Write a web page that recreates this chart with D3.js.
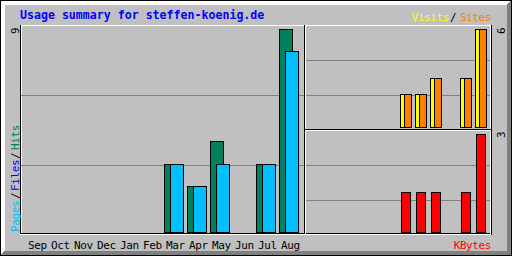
<!DOCTYPE html>
<html>
<head>
<meta charset="utf-8">
<script src="https://cdn.jsdelivr.net/npm/d3@7"></script>
<style>
  body { margin: 0; background: #fff; }
  svg { display: block; }
  text { font-family: "DejaVu Sans Mono", monospace; }
</style>
</head>
<body>
<div id="chart"></div>
<script>
// monthly figures
var months = ["Sep","Oct","Nov","Dec","Jan","Feb","Mar","Apr","May","Jun","Jul","Aug"];
var hits   = [0,0,0,0,0,0,3,2,4,0,3,9];
var files  = [0,0,0,0,0,0,0,0,0,0,0,0];
var pages  = [0,0,0,0,0,0,3,2,3,0,3,8];
var visits = [0,0,0,0,0,0,2,2,3,0,3,6];
var sites  = [0,0,0,0,0,0,2,2,3,0,3,6];
var kbytes = [0,0,0,0,0,0,1.05,1.05,1.05,0,1.05,2.6];

var title = "Usage summary for steffen-koenig.de";

var width = 512, height = 256;
var grey = "#c0c0c0", dkgrey = "#808080";
var hitColor = "#00805c", fileColor = "#0000ff", pageColor = "#00c0ff";
var visitColor = "#ffff00", siteColor = "#ff8000", kbyteColor = "#ff0000";
var smallFont = "11px", smallSpacing = "-0.4px";

var svg = d3.select("#chart")
    .append("svg")
    .attr("width", width)
    .attr("height", height)
    .attr("shape-rendering", "crispEdges");

// 1px line helpers (pixel inclusive, like gd)
function hline(x1, x2, y, c) {
    svg.append("rect").attr("x", x1).attr("y", y).attr("width", x2 - x1 + 1).attr("height", 1).attr("fill", c);
}
function vline(x, y1, y2, c) {
    svg.append("rect").attr("x", x).attr("y", y1).attr("width", 1).attr("height", y2 - y1 + 1).attr("fill", c);
}

// background + bevel border
svg.append("rect").attr("width", width).attr("height", height).attr("fill", grey);
for (var i = 1; i <= 4; i++) {
    hline(i, width - 1 - i, i, "#fff");
    vline(i, i, height - 1 - i, "#fff");
    hline(i, width - 1 - i, height - 1 - i, dkgrey);
    vline(width - 1 - i, i, height - 1 - i, dkgrey);
}
hline(0, 511, 0, "#000"); hline(0, 511, 255, "#000");
vline(0, 0, 255, "#000"); vline(511, 0, 255, "#000");

// graph window
hline(20, 491, 25, "#fff");
vline(20, 25, 234, "#000");
vline(21, 26, 233, "#fff");
hline(21, 490, 233, "#000");
hline(20, 491, 234, "#fff");
vline(490, 26, 233, "#fff");
vline(491, 25, 234, "#000");

// index lines
[95, 165].forEach(function(y) { hline(21, 303, y, dkgrey); });
[60, 95].forEach(function(y) { hline(306, 489, y, dkgrey); });
[165, 200].forEach(function(y) { hline(306, 489, y, dkgrey); });

// section lines
vline(304, 25, 233, "#000");
vline(305, 25, 233, "#fff");
hline(305, 490, 129, "#000");
hline(305, 490, 130, "#fff");

// scales
var xL = d3.scaleBand().domain(months).range([26, 26 + 23 * 12]);
var yL = d3.scaleLinear().domain([0, d3.max(hits)]).range([232, 29]);
var xR = d3.scaleBand().domain(months).range([310, 310 + 15 * 12]);
var yV = d3.scaleLinear().domain([0, d3.max(visits.concat(sites))]).range([127, 29]);
var yK = d3.scaleLinear().domain([0, d3.max(kbytes)]).range([232, 134]);

function bars(values, xs, offset, w, ys, base, color) {
    svg.append("g")
        .selectAll("rect")
        .data(values.map(function(v, i) { return {m: months[i], v: v}; }).filter(function(d) { return d.v > 0; }))
        .enter()
        .append("rect")
        .attr("x", function(d) { return xs(d.m) + offset + 0.5; })
        .attr("y", function(d) { return Math.floor(ys(d.v)) + 0.5; })
        .attr("width", w)
        .attr("height", function(d) { return base - Math.floor(ys(d.v)); })
        .attr("fill", color)
        .attr("stroke", "#000")
        .attr("stroke-width", 1);
}

bars(hits, xL, 0, 13, yL, 232, hitColor);
bars(files, xL, 3, 13, yL, 232, fileColor);
bars(pages, xL, 6, 13, yL, 232, pageColor);
bars(visits, xR, 0, 8, yV, 127, visitColor);
bars(sites, xR, 4, 7, yV, 127, siteColor);
bars(kbytes, xR, 1, 9, yK, 232, kbyteColor);

svg.attr("shape-rendering", null);

// title
svg.append("text")
    .attr("x", 20).attr("y", 19)
    .attr("font-size", "11.6px").attr("font-weight", "bold")
    .attr("fill", "#0000ff")
    .text(title);

// month labels
svg.append("g")
    .selectAll("text")
    .data(months)
    .enter()
    .append("text")
    .attr("x", function(d) { return xL(d) + 2; })
    .attr("y", 249)
    .attr("font-size", smallFont)
    .attr("letter-spacing", smallSpacing)
    .attr("fill", "#000")
    .text(function(d) { return d; });

// right legends
function label(x, y, s, c, anchor) {
    svg.append("text").attr("x", x).attr("y", y)
        .attr("font-size", smallFont).attr("letter-spacing", smallSpacing)
        .attr("text-anchor", anchor || "start")
        .attr("fill", c).text(s);
}
label(491, 21, "Sites", siteColor, "end");
label(453, 21, "/", "#000", "middle");
label(449, 21, "Visits", visitColor, "end");
label(491, 249, "KBytes", kbyteColor, "end");

// vertical (upward) text
function upText(x, y, s, c, anchor) {
    svg.append("text")
        .attr("transform", "translate(" + x + "," + y + ") rotate(-90)")
        .attr("font-size", smallFont).attr("letter-spacing", smallSpacing)
        .attr("text-anchor", anchor || "start")
        .attr("fill", c).text(s);
}
upText(19, 232, "Pages", pageColor);
upText(19, 196, "/", "#000", "middle");
upText(19, 191, "Files", fileColor);
upText(19, 156, "/", "#000", "middle");
upText(19, 150, "Hits", hitColor);

// max values
var fmt = d3.format(".0f");
upText(19, 34, fmt(d3.max(hits)), "#000");
upText(505, 34, fmt(d3.max(visits.concat(sites))), "#000");
upText(505, 138, fmt(d3.max(kbytes)), "#000");
</script>
</body>
</html>
